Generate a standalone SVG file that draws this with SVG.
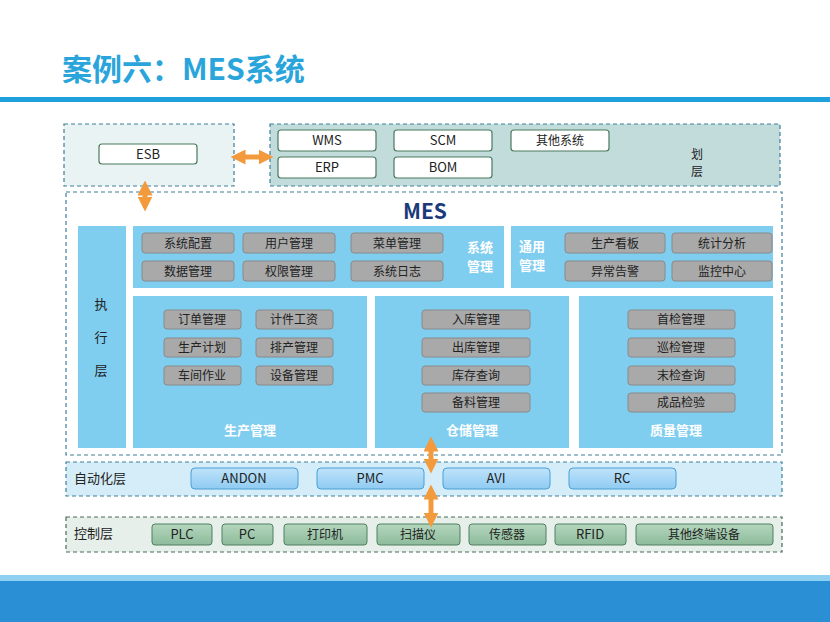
<svg xmlns="http://www.w3.org/2000/svg" width="830" height="622" viewBox="0 0 830 622">
<defs>
<marker id="ah" viewBox="0 0 10 10" refX="5" refY="5" markerWidth="3" markerHeight="3" orient="auto-start-reverse"><path d="M0,0L10,5L0,10z" fill="#f39a3c"/></marker>
<linearGradient id="gb" x1="0" y1="0" x2="0" y2="1"><stop offset="0" stop-color="#bfe3fa"/><stop offset="1" stop-color="#8fcbf2"/></linearGradient>
<linearGradient id="gg" x1="0" y1="0" x2="0" y2="1"><stop offset="0" stop-color="#b4d6bd"/><stop offset="1" stop-color="#8dbb9b"/></linearGradient>
</defs>
<style>
text{font-family:"Noto Sans CJK SC","Liberation Sans",sans-serif}
.c{text-anchor:middle}
.dash{stroke:#3f7f9a;stroke-width:1.2;stroke-dasharray:4 3}
.wb{fill:#fff;stroke:#4a7a5c;stroke-width:1.2}
.gb{fill:#a9a9a9;stroke:#8a8a8a;stroke-width:1}
.bb{fill:url(#gb);stroke:#4a9fd8;stroke-width:1}
.kb{fill:url(#gg);stroke:#4f8060;stroke-width:1}
.t{font-size:13px;fill:#222}
.s{font-size:12px;fill:#222}
.wl{font-size:13px;fill:#fff;font-weight:bold}
.pan{fill:#7fcdef}
.arr{stroke:#f39a3c;stroke-width:5;fill:none;marker-start:url(#ah);marker-end:url(#ah)}
</style>
<rect width="830" height="622" fill="#fff"/>
<text x="62" y="80" font-size="30" font-weight="bold" fill="#2aa5db">案例六：MES系统</text>
<rect x="0" y="97" width="830" height="5" fill="#1ea0dc"/>
<rect x="0" y="575" width="830" height="6" fill="#8fd0f0"/>
<rect x="0" y="581" width="830" height="41" fill="#2a8fd4"/>

<g id="esb-layer">
<rect x="64" y="124" width="170" height="62" fill="#e9f3f3" class="dash"/>
<rect x="99" y="144" width="98" height="20" rx="3" class="wb"/><text x="148" y="159" class="c t">ESB</text>
</g>
<g id="plan-layer">
<rect x="270" y="124" width="510" height="62" fill="#c2dcdc" class="dash"/>
<rect x="278" y="130" width="98" height="21" rx="3" class="wb"/><text x="327" y="145" class="c t">WMS</text>
<rect x="394" y="130" width="98" height="21" rx="3" class="wb"/><text x="443" y="145" class="c t">SCM</text>
<rect x="511" y="130" width="98" height="21" rx="3" class="wb"/><text x="560" y="145" class="c s">其他系统</text>
<rect x="278" y="157" width="98" height="21" rx="3" class="wb"/><text x="327" y="172" class="c t">ERP</text>
<rect x="394" y="157" width="98" height="21" rx="3" class="wb"/><text x="443" y="172" class="c t">BOM</text>
<text x="697" y="159" class="c s">划</text><text x="697" y="176" class="c s">层</text>
</g>

<g id="mes">
<rect x="66" y="192" width="716" height="263" fill="#fff" class="dash"/>
<text x="425" y="219" class="c" font-size="21" font-weight="bold" fill="#1b3a7c">MES</text>
<rect x="78" y="226" width="48" height="222" class="pan"/>
<text x="101" y="309" class="c t">执</text><text x="101" y="342" class="c t">行</text><text x="101" y="375" class="c t">层</text>
</g>
<g id="sys-mgmt">
<rect x="133" y="226" width="371" height="62" class="pan"/>
<rect x="142" y="233" width="92" height="20" rx="3" class="gb"/><text x="188" y="248" class="c s">系统配置</text>
<rect x="243" y="233" width="92" height="20" rx="3" class="gb"/><text x="289" y="248" class="c s">用户管理</text>
<rect x="351" y="233" width="92" height="20" rx="3" class="gb"/><text x="397" y="248" class="c s">菜单管理</text>
<rect x="142" y="261" width="92" height="20" rx="3" class="gb"/><text x="188" y="276" class="c s">数据管理</text>
<rect x="243" y="261" width="92" height="20" rx="3" class="gb"/><text x="289" y="276" class="c s">权限管理</text>
<rect x="351" y="261" width="92" height="20" rx="3" class="gb"/><text x="397" y="276" class="c s">系统日志</text>
<text x="480" y="252" class="c wl" font-size="12">系统</text><text x="480" y="271" class="c wl" font-size="12">管理</text>
</g>
<g id="gen-mgmt">
<rect x="511" y="226" width="262" height="62" class="pan"/>
<text x="532" y="251" class="c wl" font-size="12">通用</text><text x="532" y="270" class="c wl" font-size="12">管理</text>
<rect x="565" y="233" width="100" height="20" rx="3" class="gb"/><text x="615" y="248" class="c s">生产看板</text>
<rect x="672" y="233" width="100" height="20" rx="3" class="gb"/><text x="722" y="248" class="c s">统计分析</text>
<rect x="565" y="261" width="100" height="20" rx="3" class="gb"/><text x="615" y="276" class="c s">异常告警</text>
<rect x="672" y="261" width="100" height="20" rx="3" class="gb"/><text x="722" y="276" class="c s">监控中心</text>
</g>
<g id="prod">
<rect x="133" y="296" width="234" height="152" class="pan"/>
<rect x="164" y="310" width="77" height="19" rx="3" class="gb"/><text x="202" y="324" class="c s">订单管理</text>
<rect x="256" y="310" width="77" height="19" rx="3" class="gb"/><text x="294" y="324" class="c s">计件工资</text>
<rect x="164" y="338" width="77" height="19" rx="3" class="gb"/><text x="202" y="352" class="c s">生产计划</text>
<rect x="256" y="338" width="77" height="19" rx="3" class="gb"/><text x="294" y="352" class="c s">排产管理</text>
<rect x="164" y="366" width="77" height="19" rx="3" class="gb"/><text x="202" y="380" class="c s">车间作业</text>
<rect x="256" y="366" width="77" height="19" rx="3" class="gb"/><text x="294" y="380" class="c s">设备管理</text>
<text x="250" y="435" class="c wl">生产管理</text>
</g>
<g id="wh">
<rect x="375" y="296" width="194" height="152" class="pan"/>
<rect x="422" y="310" width="108" height="19" rx="3" class="gb"/><text x="476" y="324" class="c s">入库管理</text>
<rect x="422" y="338" width="108" height="19" rx="3" class="gb"/><text x="476" y="352" class="c s">出库管理</text>
<rect x="422" y="366" width="108" height="19" rx="3" class="gb"/><text x="476" y="380" class="c s">库存查询</text>
<rect x="422" y="393" width="108" height="19" rx="3" class="gb"/><text x="476" y="407" class="c s">备料管理</text>
<text x="472" y="435" class="c wl">仓储管理</text>
</g>
<g id="qa">
<rect x="579" y="296" width="194" height="152" class="pan"/>
<rect x="628" y="310" width="107" height="19" rx="3" class="gb"/><text x="681" y="324" class="c s">首检管理</text>
<rect x="628" y="338" width="107" height="19" rx="3" class="gb"/><text x="681" y="352" class="c s">巡检管理</text>
<rect x="628" y="366" width="107" height="19" rx="3" class="gb"/><text x="681" y="380" class="c s">末检查询</text>
<rect x="628" y="393" width="107" height="19" rx="3" class="gb"/><text x="681" y="407" class="c s">成品检验</text>
<text x="676" y="435" class="c wl">质量管理</text>
</g>
<g id="auto">
<rect x="66" y="462" width="716" height="34" fill="#d5edf9" class="dash"/>
<text x="74" y="483" class="t">自动化层</text>
<rect x="191" y="468" width="107" height="21" rx="4" class="bb"/><text x="244" y="483" class="c t">ANDON</text>
<rect x="317" y="468" width="107" height="21" rx="4" class="bb"/><text x="370" y="483" class="c t">PMC</text>
<rect x="443" y="468" width="107" height="21" rx="4" class="bb"/><text x="496" y="483" class="c t">AVI</text>
<rect x="569" y="468" width="107" height="21" rx="4" class="bb"/><text x="622" y="483" class="c t">RC</text>
</g>
<g id="ctrl">
<rect x="66" y="517" width="716" height="35" fill="#e6efea" class="dash" style="stroke:#4a6a5a"/>
<text x="74" y="538" class="t">控制层</text>
<rect x="152" y="524" width="60" height="21" rx="3" class="kb"/><text x="182" y="539" class="c t">PLC</text>
<rect x="222" y="524" width="51" height="21" rx="3" class="kb"/><text x="247" y="539" class="c t">PC</text>
<rect x="284" y="524" width="83" height="21" rx="3" class="kb"/><text x="325" y="539" class="c s">打印机</text>
<rect x="377" y="524" width="83" height="21" rx="3" class="kb"/><text x="418" y="539" class="c s">扫描仪</text>
<rect x="469" y="524" width="77" height="21" rx="3" class="kb"/><text x="507" y="539" class="c s">传感器</text>
<rect x="555" y="524" width="71" height="21" rx="3" class="kb"/><text x="590" y="539" class="c t">RFID</text>
<rect x="636" y="524" width="137" height="21" rx="3" class="kb"/><text x="704" y="539" class="c s">其他终端设备</text>
</g>
<g id="connectors">
<line x1="238" y1="157" x2="266" y2="157" class="arr"/>
<line x1="145" y1="188" x2="145" y2="204" class="arr"/>
<line x1="431" y1="444" x2="431" y2="466" class="arr"/>
<line x1="431" y1="492" x2="431" y2="520" class="arr"/>
</g>
</svg>
